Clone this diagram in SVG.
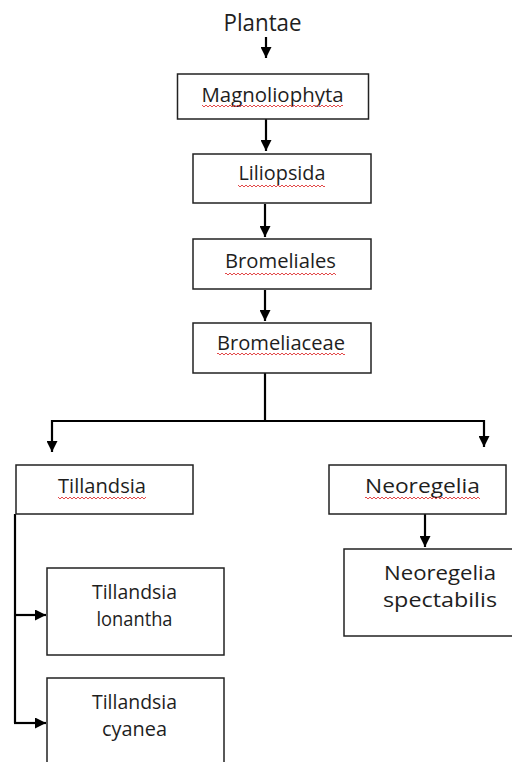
<svg xmlns="http://www.w3.org/2000/svg" width="512" height="762" viewBox="0 0 512 762">
<style>
.box{fill:#fff;stroke:#222;stroke-width:1.5}
.t{font-family:"Open Sans","Liberation Sans",sans-serif;font-size:20px;fill:#1e1e1e;text-anchor:middle}
.big{font-size:23px}
.c{fill:none;stroke:#000;stroke-width:2.2}
.w{fill:url(#wavy)}
</style>
<defs>
<marker id="ah" markerUnits="userSpaceOnUse" markerWidth="11" markerHeight="11" refX="11" refY="5.5" orient="auto">
<path d="M0,0 L11,5.5 L0,11 z" fill="#000"/>
</marker>
<pattern id="wavy" patternUnits="userSpaceOnUse" width="4" height="4">
<path d="M0,3 L2,1 L4,3" fill="none" stroke="#e03535" stroke-width="0.9"/>
</pattern>
</defs>
<g id="connectors">
<path class="c" d="M266,37 V58" marker-end="url(#ah)"/>
<path class="c" d="M266,119 V151" marker-end="url(#ah)"/>
<path class="c" d="M265,204 V237" marker-end="url(#ah)"/>
<path class="c" d="M265,290 V321" marker-end="url(#ah)"/>
<path class="c" d="M265,373 V421"/>
<path class="c" d="M52,421 H484"/>
<path class="c" d="M52,420 V452" marker-end="url(#ah)"/>
<path class="c" d="M484,420 V447" marker-end="url(#ah)"/>
<path class="c" d="M15,514 V723"/>
<path class="c" d="M14,615 H46" marker-end="url(#ah)"/>
<path class="c" d="M14,723 H46" marker-end="url(#ah)"/>
<path class="c" d="M425,514 V547" marker-end="url(#ah)"/>
</g>
<g id="plantae">
<text class="t big" x="262.5" y="31" textLength="78" lengthAdjust="spacingAndGlyphs">Plantae</text>
</g>
<g id="magnoliophyta">
<rect class="box" x="177.5" y="74" width="191" height="45"/>
<text class="t" x="272.5" y="102" textLength="142" lengthAdjust="spacingAndGlyphs">Magnoliophyta</text>
<rect class="w" x="202" y="104" width="141" height="4"/>
</g>
<g id="liliopsida">
<rect class="box" x="193" y="154" width="178" height="49"/>
<text class="t" x="282" y="180" textLength="87" lengthAdjust="spacingAndGlyphs">Liliopsida</text>
<rect class="w" x="238" y="184" width="87" height="4"/>
</g>
<g id="bromeliales">
<rect class="box" x="193" y="239" width="178" height="50"/>
<text class="t" x="280.5" y="268" textLength="111" lengthAdjust="spacingAndGlyphs">Bromeliales</text>
<rect class="w" x="225" y="272" width="111" height="4"/>
</g>
<g id="bromeliaceae">
<rect class="box" x="193" y="323" width="178" height="50"/>
<text class="t" x="281" y="350" textLength="128" lengthAdjust="spacingAndGlyphs">Bromeliaceae</text>
<rect class="w" x="217" y="352" width="128" height="4"/>
</g>
<g id="tillandsia">
<rect class="box" x="16" y="465" width="177" height="49"/>
<text class="t" x="102" y="493" textLength="88" lengthAdjust="spacingAndGlyphs">Tillandsia</text>
<rect class="w" x="58" y="496" width="88" height="4"/>
</g>
<g id="neoregelia">
<rect class="box" x="329" y="465" width="177" height="49"/>
<text class="t" x="422.5" y="493" textLength="115" lengthAdjust="spacingAndGlyphs">Neoregelia</text>
<rect class="w" x="365" y="496" width="115" height="4"/>
</g>
<g id="tillandsia-lonantha">
<rect class="box" x="47" y="568" width="177" height="87"/>
<text class="t" x="134.5" y="599" textLength="85" lengthAdjust="spacingAndGlyphs">Tillandsia</text>
<text class="t" x="134.5" y="626" textLength="76" lengthAdjust="spacingAndGlyphs">lonantha</text>
</g>
<g id="tillandsia-cyanea">
<rect class="box" x="47" y="678" width="177" height="100"/>
<text class="t" x="134.5" y="709" textLength="85" lengthAdjust="spacingAndGlyphs">Tillandsia</text>
<text class="t" x="134.5" y="736" textLength="65" lengthAdjust="spacingAndGlyphs">cyanea</text>
</g>
<g id="neoregelia-spectabilis">
<rect class="box" x="344" y="549" width="200" height="87"/>
<text class="t" x="440" y="580" textLength="112" lengthAdjust="spacingAndGlyphs">Neoregelia</text>
<text class="t" x="440" y="607" textLength="114" lengthAdjust="spacingAndGlyphs">spectabilis</text>
</g>
</svg>
